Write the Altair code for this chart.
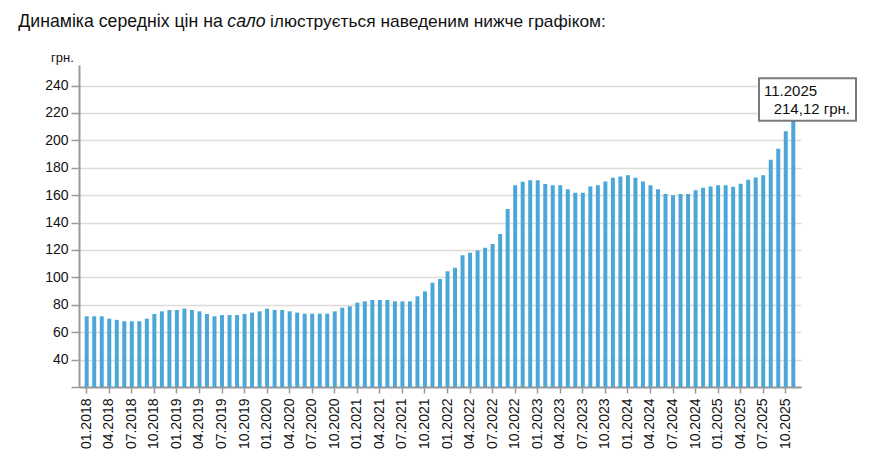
import altair as alt
import pandas as pd

months = [f"{m:02d}.{y}" for y in range(2018, 2026) for m in range(1, 13)][:95]

prices = [
    71.6, 71.6, 71.6, 69.9, 69.0, 68.0, 68.0, 68.0, 69.9, 73.3, 75.2, 76.2,   # 2018
    76.2, 77.2, 76.2, 75.2, 73.3, 71.6, 72.5, 72.5, 72.5, 73.3, 74.3, 75.2,   # 2019
    77.2, 76.2, 76.2, 75.2, 74.3, 73.5, 73.5, 73.5, 73.5, 75.2, 77.9, 78.9,   # 2020
    81.6, 82.5, 83.5, 83.5, 83.5, 82.5, 82.5, 82.5, 86.2, 89.8, 96.1, 98.8,   # 2021
    104.4, 107.1, 116.1, 118.0, 119.7, 121.7, 124.4, 131.7, 149.9, 167.2, 169.8, 170.9,  # 2022
    170.9, 168.2, 167.3, 167.3, 164.4, 161.8, 161.8, 166.4, 167.3, 170.0, 172.7, 173.6,  # 2023
    174.6, 172.7, 170.0, 167.3, 164.4, 160.8, 160.0, 160.8, 160.8, 163.6, 165.4, 166.4,  # 2024
    167.3, 167.3, 166.1, 168.3, 171.2, 172.9, 174.6, 185.8, 193.8, 206.7, 214.12,        # 2025
]

y_ticks = [20, 40, 60, 80, 100, 120, 140, 160, 180, 200, 220, 240]
x_ticks = months[::3]

title_part1 = "Динаміка середніх цін на "
title_italic = "сало"
title_part2 = "ілюструється наведеним нижче графіком:"
unit_label = "грн."
note_date = "11.2025"
note_value = "214,12 грн."

df = pd.DataFrame({"month": months, "price": prices})

FONT = "Liberation Sans, Arial, sans-serif"
AXIS_GRAY = "#9a9a9a"

bars = alt.Chart(df).mark_bar(color="#4ca7d9", clip=True).encode(
    x=alt.X(
        "month:O",
        sort=months,
        scale=alt.Scale(paddingInner=0.47, paddingOuter=0.76),
        axis=alt.Axis(
            values=x_ticks,
            labelAngle=270,
            labelFont=FONT,
            labelFontSize=14,
            labelColor="#111111",
            labelPadding=5,
            tickSize=6,
            tickColor=AXIS_GRAY,
            tickWidth=1.5,
            domainColor=AXIS_GRAY,
            domainWidth=2,
            grid=False,
            title=None,
        ),
    ),
    y=alt.Y(
        "price:Q",
        scale=alt.Scale(domain=[20, 255], nice=False, zero=False),
        axis=alt.Axis(
            values=y_ticks,
            labelExpr="datum.value == 20 ? '' : datum.label",
            labelFont=FONT,
            labelFontSize=14,
            labelColor="#111111",
            labelPadding=3,
            tickSize=8,
            tickColor=AXIS_GRAY,
            tickWidth=1.5,
            domainColor=AXIS_GRAY,
            domainWidth=2,
            grid=True,
            gridColor="#dcdcdc",
            gridWidth=1.5,
            title=None,
        ),
    ),
)

def text_mark(txt, x, y, size, align="left", style="normal", color="#111111"):
    return alt.Chart(pd.DataFrame({"t": [txt]})).mark_text(
        align=align, baseline="alphabetic", font=FONT, fontSize=size,
        fontStyle=style, color=color,
    ).encode(text="t:N", x=alt.value(x), y=alt.value(y))

t1 = text_mark(title_part1, -60.7, -37.7, 17.7)
t2 = text_mark(title_italic, 148.3, -37.7, 17.7, style="italic")
t3 = text_mark(title_part2, 191, -37.7, 17.35)
unit = text_mark(unit_label, -28, -3.5, 13)

box = alt.Chart(pd.DataFrame({"t": [note_date]})).mark_rect(
    fill="white", stroke="#7a7a7a", strokeWidth=2
).encode(
    x=alt.value(680), x2=alt.value(777), y=alt.value(13.3), y2=alt.value(55.7)
)
n1 = text_mark(note_date, 685, 30.7, 15)
n2 = text_mark(note_value, 771, 49, 15, align="right")

chart = alt.layer(bars, box, n1, n2, t1, t2, t3, unit).properties(
    width=722,
    height=322,
    padding={"left": 71, "top": 57, "right": 70, "bottom": 70},
    autosize=alt.AutoSizeParams(type="none"),
    background="white",
).configure_view(stroke=None)

chart.save("out.html", embed_options={"renderer": "svg", "actions": False})
